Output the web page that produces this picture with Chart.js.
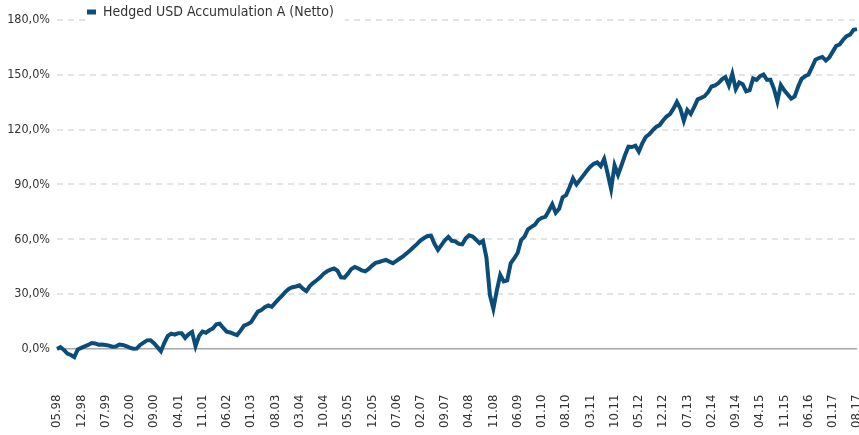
<!DOCTYPE html>
<html>
<head>
<meta charset="utf-8">
<script src="https://cdn.jsdelivr.net/npm/chart.js@4.4.1/dist/chart.umd.min.js"></script>
<style>
  html, body { margin: 0; padding: 0; background: #ffffff; }
  #wrap { width: 859px; height: 435px; position: relative; }
</style>
</head>
<body>
<div id="wrap"><canvas id="c"></canvas></div>
<script>
// ---- data ----
const seriesName = 'Hedged USD Accumulation A (Netto)';
const startMonth = 5, startYear = 1998; // first category 05.98
const performance = [
  0, 1.0, -0.5, -2.5, -3.3, -4.5, -0.3, 0.6, 1.4, 2.2,
  3.2, 3.0, 2.3, 2.4, 2.2, 1.8, 1.2, 1.3, 2.4, 2.2,
  1.5, 0.7, 0.1, 0.2, 2.2, 3.5, 4.7, 4.8, 3.2, 1.0,
  -1.2, 3.4, 7.2, 8.4, 7.8, 8.6, 8.6, 6.0, 8.0, 9.3,
  1.5, 7.0, 9.5, 8.9, 10.2, 11.2, 13.5, 13.8, 11.5, 9.5,
  9.0, 8.2, 7.6, 10.0, 12.7, 13.5, 14.6, 17.5, 20.4, 21.3,
  22.8, 23.8, 23.0, 25.2, 27.2, 29.2, 31.3, 33.0, 33.8, 34.2,
  34.8, 33.0, 31.6, 34.4, 36.2, 37.6, 39.2, 41.2, 42.5, 43.4,
  44.0, 42.8, 39.2, 39.0, 41.2, 43.8, 44.9, 44.0, 43.0, 42.5,
  43.8, 45.6, 47.1, 47.6, 48.2, 48.7, 47.8, 46.9, 48.2, 49.5,
  50.8, 52.4, 54.0, 55.8, 57.5, 59.4, 60.7, 61.8, 62.0, 57.5,
  54.2, 56.8, 59.5, 61.3, 59.2, 58.9, 57.5, 57.2, 60.5, 62.2,
  61.5, 59.8, 57.9, 59.2, 50.0, 29.5, 22.0, 32.0, 40.5, 37.0,
  37.5, 46.8, 49.5, 52.5, 59.5, 61.5, 65.5, 66.8, 68.0, 70.6,
  71.8, 72.3, 75.5, 79.2, 74.5, 76.7, 83.0, 84.2, 88.5, 93.3,
  90.0, 92.5, 95.0, 97.5, 99.7, 101.3, 102.1, 100.0, 104.0, 96.0,
  87.5, 100.5, 95.3, 100.5, 106.0, 110.7, 110.5, 111.2, 108.0, 112.5,
  116.0, 117.5, 119.6, 121.5, 122.5, 125.0, 127.2, 128.5, 131.5, 135.2,
  131.5, 124.8, 130.8, 128.6, 132.5, 136.6, 137.4, 138.3, 140.5, 143.6,
  144.2, 145.5, 147.5, 148.8, 144.2, 150.5, 142.2, 145.8, 144.8, 141.0,
  141.6, 148.0, 147.2, 149.3, 150.2, 147.3, 147.3, 142.5, 135.5, 144.4,
  141.5, 139.2, 137.0, 138.2, 143.5, 147.8, 149.2, 150.2, 154.0, 158.3,
  159.2, 159.8, 157.8, 159.5, 162.7, 165.8, 166.6, 169.2, 171.2, 172.0,
  174.6, 175.0
];
const tickLabels = ['05.98','12.98','07.99','02.00','09.00','04.01','11.01','06.02','01.03','08.03',
  '03.04','10.04','05.05','12.05','07.06','02.07','09.07','04.08','11.08','06.09',
  '01.10','08.10','03.11','10.11','05.12','12.12','07.13','02.14','09.14','04.15',
  '11.15','06.16','01.17','08.17'];
const yTickValues = [0, 30, 60, 90, 120, 150, 180];

// month categories MM.YY
const categories = performance.map((_, i) => {
  const m0 = startMonth - 1 + i;
  const m = (m0 % 12) + 1;
  const y = (startYear + Math.floor(m0 / 12)) % 100;
  return String(m).padStart(2, '0') + '.' + String(y).padStart(2, '0');
});

const FONT = "'DejaVu Sans Condensed', 'DejaVu Sans', sans-serif";
const lineColor = '#0b4d78';
const LEGEND_FONT_SIZE = 14;

const legendMover = {
  id: 'legendMover',
  afterLayout(chart) {
    const lg = chart.legend;
    const w = lg.right - lg.left, h = lg.bottom - lg.top;
    lg.left = 87; lg.top = 5;
    lg.right = lg.left + w; lg.bottom = lg.top + h;
  },
  beforeDatasetsDraw(chart) {
    const lg = chart.legend;
    const ctx = chart.ctx;
    ctx.save();
    ctx.font = LEGEND_FONT_SIZE + "px " + FONT;
    const tw = ctx.measureText(seriesName).width;
    ctx.fillStyle = '#ffffff';
    ctx.fillRect(lg.left - 1, lg.top, 9 + 7 + tw + 12, lg.bottom - lg.top);
    ctx.restore();
    lg.draw();
  }
};

new Chart(document.getElementById('c'), {
  type: 'line',
  data: {
    labels: categories,
    datasets: [{
      label: seriesName,
      data: performance,
      borderColor: lineColor,
      backgroundColor: lineColor,
      borderWidth: 4,
      pointRadius: 0,
      tension: 0,
      fill: false
    }]
  },
  options: {
    responsive: true,
    maintainAspectRatio: false,
    animation: false,
    layout: { padding: { top: 0, right: 2, left: 0, bottom: 0 } },
    plugins: {
      tooltip: { enabled: false },
      legend: {
        position: 'top',
        align: 'start',
        maxHeight: 20,
        labels: {
          boxWidth: 9,
          boxHeight: 5,
          padding: 0,
          color: '#333333',
          font: { family: FONT, size: LEGEND_FONT_SIZE },
          generateLabels(chart) {
            const items = Chart.defaults.plugins.legend.labels.generateLabels(chart);
            items.forEach(it => { it.lineWidth = 0; it.fillStyle = lineColor; it.strokeStyle = lineColor; });
            return items;
          }
        }
      }
    },
    scales: {
      x: {
        type: 'category',
        offset: false,
        grid: { display: false, drawTicks: false },
        border: { display: false },
        afterCalculateLabelRotation(scale) { scale.labelRotation = 90; },
        ticks: {
          autoSkip: false,
          maxRotation: 90,
          minRotation: 90,
          padding: 9,
          color: '#333333',
          font: { family: FONT, size: 13 },
          callback(val) {
            const lab = categories[val];
            return tickLabels.includes(lab) ? lab : '';
          }
        },
        afterFit(scale) {
          scale.height = 49.5;
          scale.paddingLeft = 0;
          scale.paddingRight = 0;
        }
      },
      y: {
        min: -20,
        max: 180,
        afterBuildTicks(scale) { scale.ticks = yTickValues.map(v => ({ value: v })); },
        afterFit(scale) { scale.width = 57; },
        grid: {
          drawTicks: false,
          color: (ctx) => ctx.tick && ctx.tick.value === 0 ? '#a8a8a8' : '#e4e4e4',
          lineWidth: (ctx) => ctx.tick && ctx.tick.value === 0 ? 1.5 : 2
        },
        border: {
          display: false,
          dash: (ctx) => ctx.tick && ctx.tick.value === 0 ? [] : [6, 5]
        },
        ticks: {
          padding: 7,
          color: '#333333',
          font: { family: FONT, size: 12.5 },
          callback(v) { return v.toFixed(1).replace('.', ',') + '%'; }
        }
      }
    }
  },
  plugins: [legendMover]
});
</script>
</body>
</html>
